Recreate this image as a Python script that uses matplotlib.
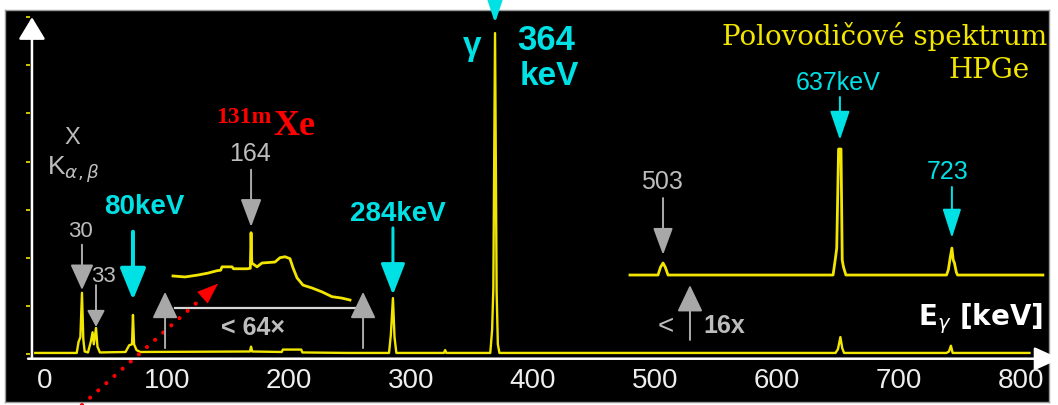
import matplotlib
matplotlib.use('Agg')
import matplotlib.pyplot as plt

# hlavni spektrum HPGe (energie v keV, cetnost v dilcich osy)
spec_E = [-8, 26, 27.5, 29, 30.3, 31.4, 32.5, 35.2, 37.5, 39, 40, 41.8, 43, 45,
          66, 69, 71.3, 72.1, 73, 75, 78,
          168, 168.9, 169.8, 194, 195, 210, 211, 248,
          282, 283.5, 285.2, 286.5, 288,
          327, 328, 329,
          365, 366.5, 367.5, 368.9, 370.2, 371.2, 372.5,
          648, 650, 652, 653.5, 655,
          739, 741, 742.6, 744, 807]
spec_y = [0.02, 0.02, 0.25, 0.35, 1.27, 0.3, 0.05, 0.03, 0.25, 0.45, 0.2, 0.54, 0.15, 0.03,
          0.04, 0.18, 0.2, 0.81, 0.2, 0.08, 0.04,
          0.05, 0.15, 0.05, 0.04, 0.09, 0.09, 0.03, 0.02,
          0.02, 0.4, 1.16, 0.35, 0.02,
          0.02, 0.08, 0.02,
          0.02, 0.5, 1.35, 6.67, 1.3, 0.2, 0.02,
          0.02, 0.1, 0.35, 0.12, 0.02,
          0.02, 0.05, 0.17, 0.02, 0.02]

# vyrez 100-250 keV, zvetseno 64x
zoom64_E = [104.9, 114.8, 125.4, 133.6, 141.0, 144.0, 145.1, 153.3, 154.5, 157.4, 165.6,
            168.3, 168.9, 169.5, 173.8, 177.9, 188.5, 192.6, 196.7, 200.8, 203.3,
            206.6, 211.5, 218.9, 227.0, 235.2, 243.4, 250.0]
zoom64_y = [1.62, 1.60, 1.64, 1.68, 1.73, 1.74, 1.81, 1.81, 1.77, 1.77, 1.77,
            1.78, 2.52, 1.89, 1.81, 1.89, 1.91, 2.00, 2.02, 1.98, 1.79,
            1.58, 1.43, 1.37, 1.29, 1.19, 1.16, 1.12]

# vyrez nad 480 keV, zvetseno 16x
zoom16_E = [479.5, 502.5, 504.5, 506.6, 508.5, 510.7,
            646, 648, 649, 650.5, 652.5, 653.5, 654.5, 656.5,
            739, 740.5, 742, 743.4, 744.5, 745.5, 747, 748, 818]
zoom16_y = [1.64, 1.64, 1.8, 1.89, 1.8, 1.64,
            1.64, 2.0, 2.2, 4.26, 4.26, 1.95, 1.81, 1.64,
            1.64, 1.75, 2.0, 2.2, 1.95, 1.89, 1.7, 1.64, 1.64]

tick_vals = [0, 100, 200, 300, 400, 500, 600, 700, 800]
tick_labels = ['0', '100', '200', '300', '400', '500', '600', '700', '800']

YELLOW = '#F2E600'
CYAN = '#00E1E6'
GREY = '#A8A8A8'
GREYT = '#BDBDBD'
SANS = 'Liberation Sans'

fig = plt.figure(figsize=(10.58, 4.05), dpi=100)
ax = fig.add_axes([5/1058, 3/405, 1044/1058, 392/405])
ax.set_facecolor('black')
ax.set_xlim(-32.8, 823)
ax.set_ylim(-1.0, 7.15)
ax.set_xticks([])
ax.set_yticks([])
for s in ax.spines.values():
    s.set_color('#9a9a9a')
    s.set_linewidth(1)


def sipka(x0, y0, x1, y1, c, lw=2, hw=18, hl=20):
    # rozmery v pixelech -> body
    ax.annotate('', xy=(x1, y1), xytext=(x0, y0), annotation_clip=False,
                arrowprops=dict(arrowstyle=f'-|>,head_length={hl*0.72},head_width={hw*0.36}',
                                mutation_scale=1, color=c, lw=lw*0.72,
                                shrinkA=0, shrinkB=0))


# osy
sipka(-13.9, -0.1, 832, -0.1, 'white', lw=2.5, hw=20, hl=22)
sipka(-10.7, -0.1, -10.7, 7.0, 'white', lw=2.5, hw=23, hl=19)
ax.hlines(range(8), -15.2, -12.6, color=YELLOW, lw=1.2)

# spektra
ax.plot(spec_E, spec_y, color=YELLOW, lw=1.7)
ax.plot(zoom64_E, zoom64_y, color=YELLOW, lw=2.0)
ax.plot(zoom16_E, zoom16_y, color=YELLOW, lw=2.0)

for v, lab in zip(tick_vals, tick_labels):
    ax.text(v, -0.56, lab, ha='center', va='center', color='#EEEEEE',
            fontsize=20, family=SANS)

# popisky car
ax.text(22.1, 4.49, 'X', color=GREYT, fontsize=17, family=SANS, ha='center', va='center')
ax.text(23, 3.83, r'K$_{\alpha,\beta}$', color=GREYT, fontsize=19, family=SANS,
        ha='center', va='center')
ax.text(28.7, 2.54, '30', color=GREYT, fontsize=16, family=SANS, ha='center', va='center')
ax.text(48, 1.60, '33', color=GREYT, fontsize=16, family=SANS, ha='center', va='center')
sipka(30.3, 2.27, 30.3, 1.33, GREY, hw=20, hl=22)
sipka(41.8, 1.43, 41.8, 0.56, GREY, hw=15, hl=14)

ax.text(81.6, 3.06, '80keV', color=CYAN, fontsize=20, family=SANS, weight='bold',
        ha='center', va='center')
sipka(72.1, 2.54, 72.1, 1.12, CYAN, lw=4, hw=22, hl=27)

ax.text(289, 2.91, '284keV', color=CYAN, fontsize=20, family=SANS, weight='bold',
        ha='center', va='center')
sipka(285.2, 2.62, 285.2, 1.23, CYAN, lw=3, hw=21, hl=27)

ax.text(168, 4.16, '164', color=GREYT, fontsize=18, family=SANS, ha='center', va='center')
sipka(168.9, 3.83, 168.9, 2.64, GREY, hw=18, hl=24)

ax.text(186, 5.13, '131m', color='red', fontsize=17, family='Liberation Serif',
        weight='bold', ha='right', va='top')
ax.text(186.9, 4.55, 'Xe', color='red', fontsize=26, family='Liberation Serif',
        weight='bold', ha='left', va='baseline')

# zvetseni 64x
sipka(98.4, 0.12, 98.4, 1.29, GREY, hw=22, hl=23)
sipka(260.7, 0.12, 260.7, 1.29, GREY, hw=22, hl=23)
ax.plot([106.6, 254], [0.96, 0.96], color='#D8D8D8', lw=1.6)
ax.text(170.9, 0.54, '< 64×', color=GREYT, fontsize=18, family=SANS, weight='bold',
        ha='center', va='center')

# cervena teckovana sipka
ax.plot([30.3, 129.5], [-1.06, 1.18], color='red', lw=3.0, linestyle=(0, (0.01, 2.6)),
        dash_capstyle='round', clip_on=False)
sipka(129.5, 1.18, 141.8, 1.46, 'red', lw=0.5, hw=15, hl=20)

# 364 keV
sipka(368.9, 7.78, 368.9, 6.88, CYAN, lw=3, hw=20, hl=30)
ax.text(350, 6.40, 'γ', color=CYAN, fontsize=24, family=SANS, weight='bold',
        ha='center', va='center')
ax.text(411, 6.52, '364', color=CYAN, fontsize=25, family=SANS, weight='bold',
        ha='center', va='center')
ax.text(413, 5.76, 'keV', color=CYAN, fontsize=24, family=SANS, weight='bold',
        ha='center', va='center')

ax.text(688, 6.42, 'Polovodičové spektrum', color=YELLOW, fontsize=20,
        family='DejaVu Serif', ha='center', va='baseline')
ax.text(773.8, 5.74, 'HPGe', color=YELLOW, fontsize=20, family='DejaVu Serif',
        ha='center', va='baseline')

# zvetseni 16x
ax.text(505.7, 3.58, '503', color=GREYT, fontsize=18, family=SANS, ha='center', va='center')
sipka(506.6, 3.24, 506.6, 2.06, GREY, hw=17, hl=23)
ax.text(650, 5.63, '637keV', color=CYAN, fontsize=18, family=SANS, ha='center', va='center')
sipka(651.6, 5.34, 651.6, 4.45, CYAN, hw=17, hl=25)
ax.text(740, 3.78, '723', color=CYAN, fontsize=18, family=SANS, ha='center', va='center')
sipka(743.4, 3.47, 743.4, 2.41, CYAN, hw=16, hl=25)

sipka(528.7, 0.29, 528.7, 1.43, GREY, hw=22, hl=23)
ax.text(509, 0.56, '<', color=GREYT, fontsize=20, family=SANS, ha='center', va='center')
ax.text(556.6, 0.58, '16x', color=GREYT, fontsize=18, family=SANS, weight='bold',
        ha='center', va='center')

ax.text(818, 0.60, r'E$_\gamma$ [keV]', color='white', fontsize=20, family='DejaVu Sans',
        weight='bold', ha='right', va='baseline')

fig.savefig('out.png', dpi=100, facecolor='white')
